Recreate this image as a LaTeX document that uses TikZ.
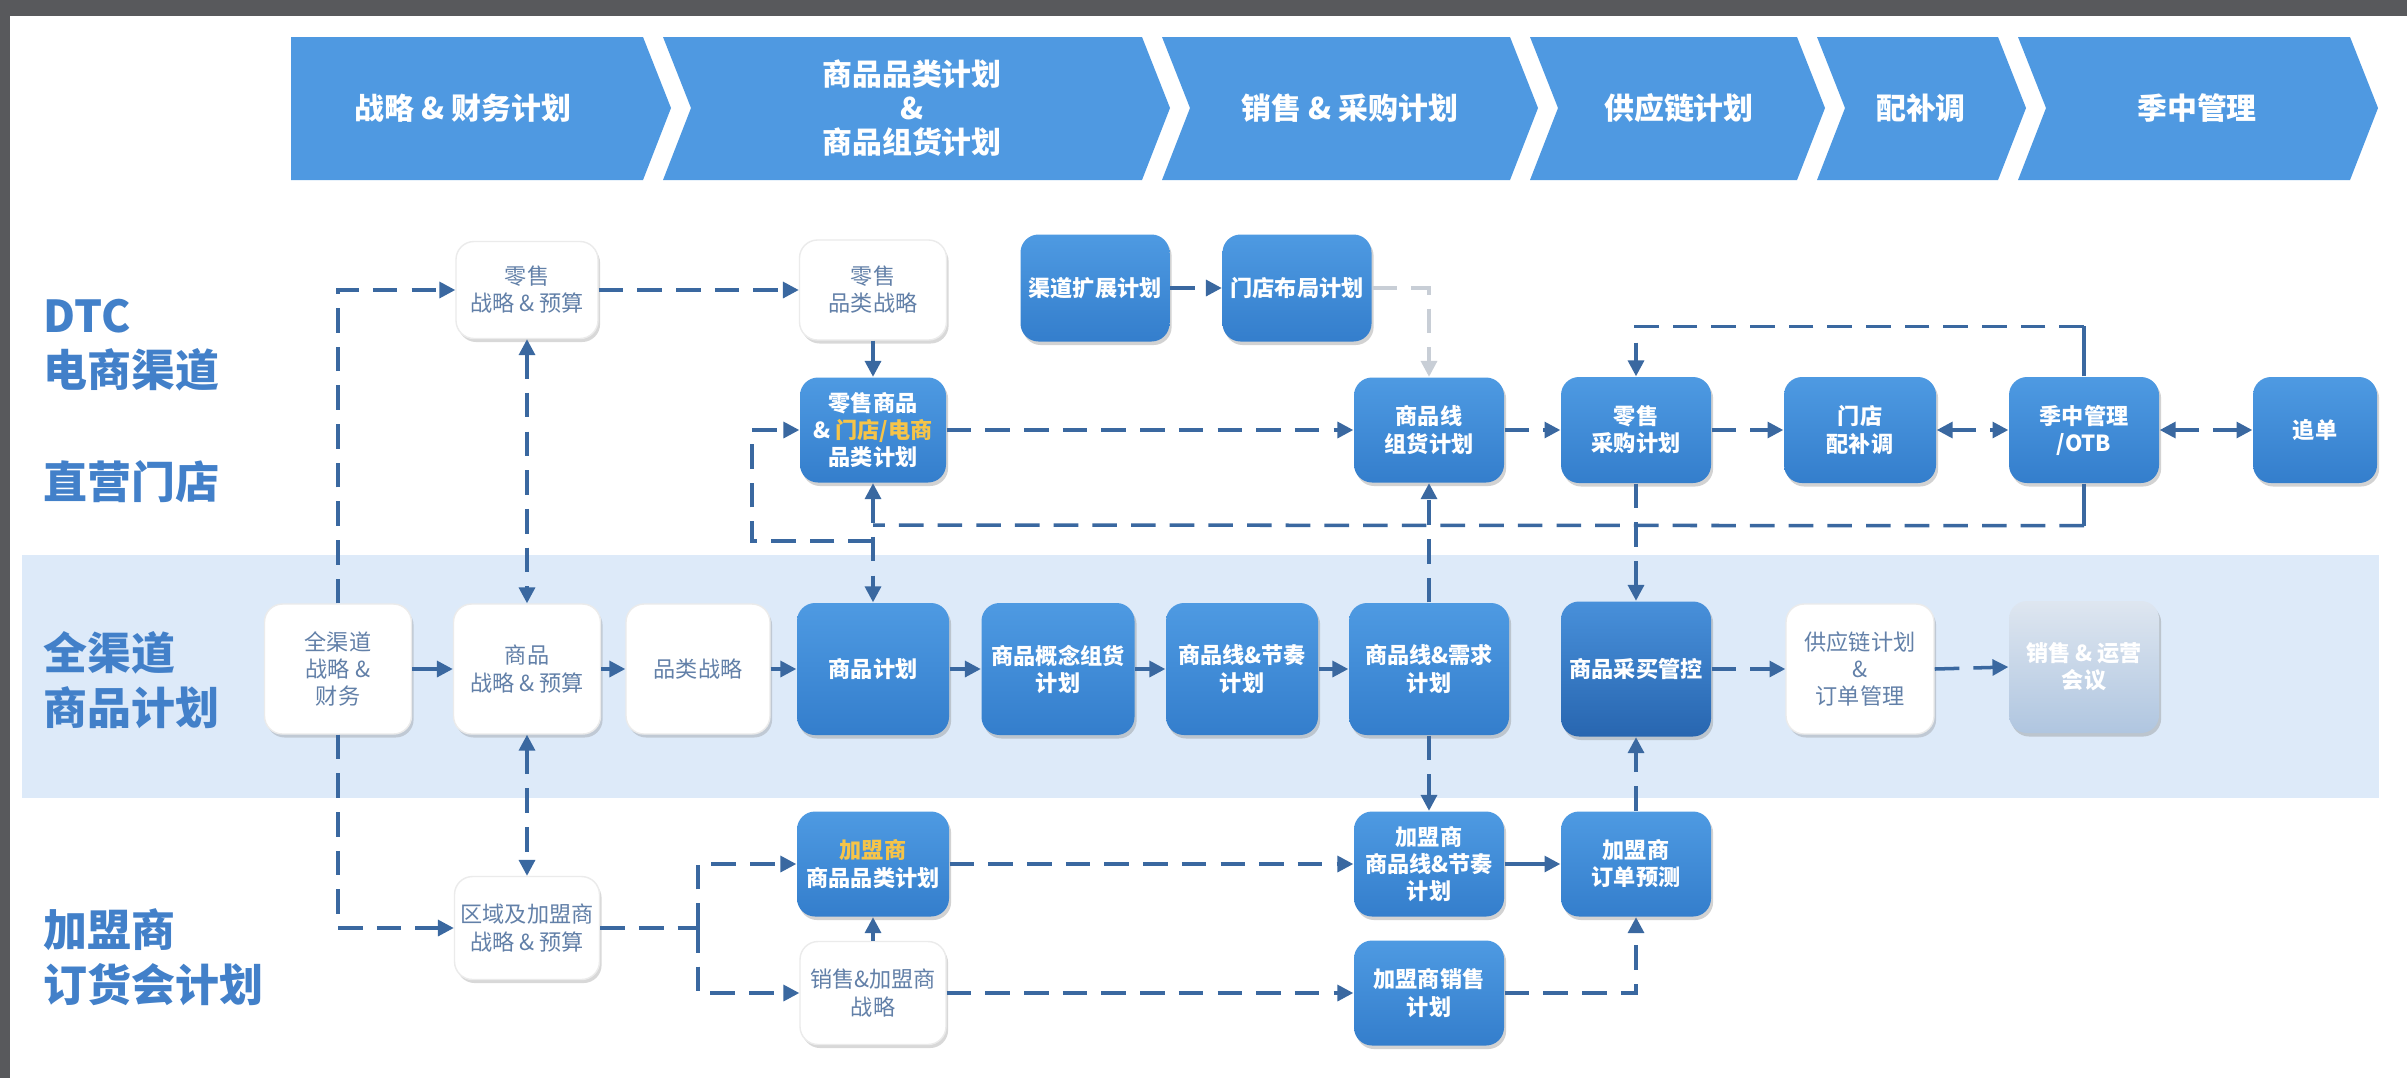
\documentclass[tikz,border=0pt]{standalone}
\usepackage{fontspec}
\setmainfont{Noto Sans CJK SC}
\usetikzlibrary{arrows.meta,shadows}
\definecolor{frame}{RGB}{88,89,92}
\definecolor{band}{RGB}{221,234,249}
\definecolor{hdr}{RGB}{79,153,225}
\definecolor{lbl}{RGB}{66,128,201}
\definecolor{wtxt}{RGB}{98,128,168}
\definecolor{lcol}{RGB}{58,104,160}
\definecolor{lgray}{RGB}{200,206,214}
\definecolor{ylw}{RGB}{246,196,72}
\definecolor{btop}{RGB}{78,154,226}
\definecolor{bbot}{RGB}{52,126,204}
\definecolor{dtop}{RGB}{72,144,218}
\definecolor{dbot}{RGB}{40,102,176}
\definecolor{gtop}{RGB}{222,230,240}
\definecolor{gbot}{RGB}{176,198,224}
\begin{document}
\begin{tikzpicture}[x=0.01cm,y=-0.01cm,
  sz/.style 2 args={minimum width=#1*0.01cm, minimum height=#2*0.01cm},
  base/.style={rounded corners=0.18cm, inner sep=0pt, align=center},
  bnode/.style={base, top color=btop, bottom color=bbot, text=white,
    font=\bfseries\fontsize{6.3}{7.7}\selectfont,
    drop shadow={opacity=0.35, shadow xshift=0.6pt, shadow yshift=-1pt}},
  dnode/.style={bnode, top color=dtop, bottom color=dbot},
  gnode/.style={bnode, top color=gtop, bottom color=gbot},
  wnode/.style={base, fill=white, draw=black!8, text=wtxt,
    font=\fontsize{6.3}{7.7}\selectfont,
    drop shadow={opacity=0.3, shadow xshift=0.6pt, shadow yshift=-1pt}},
  hdrtxt/.style={text=white, font=\bfseries\fontsize{8.5}{9.6}\selectfont, align=center, inner sep=0pt},
  side/.style={text=lbl, font=\bfseries\fontsize{12.5}{15.5}\selectfont, align=left, anchor=west, inner sep=0pt},
  dl/.style={draw=lcol, line width=1pt, dash pattern=on 7pt off 4pt},
  sl/.style={draw=lcol, line width=1pt},
  arr/.style={-{Triangle[length=4.5pt,width=4.5pt]}},
  arr2/.style={{Triangle[length=4.5pt,width=4.5pt]}-{Triangle[length=4.5pt,width=4.5pt]}}
]
\useasboundingbox (0,0) rectangle (2407,1078);
\fill[frame] (0,0) rectangle (2407,1078);
\fill[white] (10,16) rectangle (2407,1078);
% band
\fill[band] (22,555) rectangle (2379,798);

% header chevrons
\fill[hdr] (291,37) -- (643,37) -- (671,108) -- (643,180) -- (291,180) -- cycle;
\fill[hdr] (663,37) -- (1142,37) -- (1170,108) -- (1142,180) -- (663,180) -- (691,108) -- cycle;
\fill[hdr] (1162,37) -- (1510,37) -- (1538,108) -- (1510,180) -- (1162,180) -- (1190,108) -- cycle;
\fill[hdr] (1530,37) -- (1797,37) -- (1825,108) -- (1797,180) -- (1530,180) -- (1558,108) -- cycle;
\fill[hdr] (1817,37) -- (1998,37) -- (2026,108) -- (1998,180) -- (1817,180) -- (1845,108) -- cycle;
\fill[hdr] (2018,37) -- (2350,37) -- (2378,108) -- (2350,180) -- (2018,180) -- (2046,108) -- cycle;
\node[hdrtxt] (h1) at (463,108) {战略 \& 财务计划};
\node[hdrtxt] (h2) at (912,108) {商品品类计划\\\&\\商品组货计划};
\node[hdrtxt] (h3) at (1350,108) {销售 \& 采购计划};
\node[hdrtxt] (h4) at (1679,108) {供应链计划};
\node[hdrtxt] (h5) at (1921,108) {配补调};
\node[hdrtxt] (h6) at (2197,108) {季中管理};

% side labels
\node[side] (l1) at (43,345) {DTC\\电商渠道};
\node[side] (l2) at (43,482) {直营门店};
\node[side] (l3) at (43,680) {全渠道\\商品计划};
\node[side] (l4) at (43,957) {加盟商\\订货会计划};

% row 1
\node[wnode, sz={142}{97}] (rzl) at (527,290) {零售\\战略 \& 预算};
\node[wnode, sz={147}{100}] (rpl) at (873,290) {零售\\品类战略};
\node[bnode, sz={149}{107}] (qdkz) at (1095,288) {渠道扩展计划};
\node[bnode, sz={149}{107}] (mdbj) at (1297,288) {门店布局计划};
\node[bnode, sz={146}{105}] (lssp) at (873,430) {零售商品\\\& {\color{ylw}门店/电商}\\品类计划};
\node[bnode, sz={150}{105}] (spxzh) at (1429,430) {商品线\\组货计划};
\node[bnode, sz={150}{106}] (lscg) at (1636,430) {零售\\采购计划};
\node[bnode, sz={152}{106}] (mdpbt) at (1860,430) {门店\\配补调};
\node[bnode, sz={150}{106}] (jzgl) at (2084,430) {季中管理\\/OTB};
\node[bnode, sz={124}{106}] (zd) at (2315,430) {追单};

% row 2
\node[wnode, sz={147}{130}] (qqd) at (338,669) {全渠道\\战略 \&\\财务};
\node[wnode, sz={147}{130}] (spzl) at (527,669) {商品\\战略 \& 预算};
\node[wnode, sz={144}{130}] (plzl) at (698,669) {品类战略};
\node[bnode, sz={152}{132}] (spjh) at (873,669) {商品计划};
\node[bnode, sz={153}{132}] (spgn) at (1058,669) {商品概念组货\\计划};
\node[bnode, sz={152}{132}] (spjz) at (1242,669) {商品线\&节奏\\计划};
\node[bnode, sz={160}{132}] (spxq) at (1429,669) {商品线\&需求\\计划};
\node[dnode, sz={150}{135}] (cmgk) at (1636,669) {商品采买管控};
\node[wnode, sz={148}{130}] (gyl) at (1860,669) {供应链计划\\\&\\订单管理};
\node[gnode, sz={150}{132}] (xsyy) at (2084,667) {销售 \& 运营\\会议};

% row 3
\node[wnode, sz={145}{103}] (qyjm) at (527,928) {区域及加盟商\\战略 \& 预算};
\node[bnode, sz={152}{105}] (jmpl) at (873,864) {{\color{ylw}加盟商}\\商品品类计划};
\node[wnode, sz={146}{103}] (xsjm) at (873,993) {销售\&加盟商\\战略};
\node[bnode, sz={150}{105}] (jmjz) at (1429,864) {加盟商\\商品线\&节奏\\计划};
\node[bnode, sz={150}{105}] (jmxs) at (1429,993) {加盟商销售\\计划};
\node[bnode, sz={150}{105}] (jmdd) at (1636,864) {加盟商\\订单预测};

% connectors: left trunk
\draw[dl,arr] (qqd.north) |- (rzl.west);
\draw[dl,arr] (qqd.south) |- (qyjm.west);
\draw[dl,arr] (rzl.east) -- (rpl.west);
\draw[dl,arr2] (rzl.south) -- (spzl.north);
\draw[dl,arr2] (spzl.south) -- (qyjm.north);
% row 2 chain
\draw[sl,arr] (qqd.east) -- (spzl.west);
\draw[sl,arr] (spzl.east) -- (plzl.west);
\draw[sl,arr] (plzl.east) -- (spjh.west);
\draw[sl,arr] (spjh.east) -- (spgn.west);
\draw[sl,arr] (spgn.east) -- (spjz.west);
\draw[sl,arr] (spjz.east) -- (spxq.west);
\draw[dl,arr] (cmgk.east) -- (gyl.west);
\draw[dl,arr] (gyl.east) -- (xsyy.west);
% row 1
\draw[sl,arr] (rpl.south) -- (lssp.north);
\draw[dl,arr] (qdkz.east) -- (mdbj.west);
\draw[dl,draw=lgray,arr] (mdbj.east) -| (spxzh.north);
\draw[dl,arr] (lssp.east) -- (spxzh.west);
\draw[dl,arr] (spxzh.east) -- (lscg.west);
\draw[dl,arr] (lscg.east) -- (mdpbt.west);
\draw[dl,arr2] (mdpbt.east) -- (jzgl.west);
\draw[dl,arr2] (jzgl.east) -- (zd.west);
% feedback loops
\draw[sl] (jzgl.north) -- ++(0,-50) coordinate (ta);
\draw[dl,arr] (ta) -| (lscg.north);
\draw[sl] (jzgl.south) -- ++(0,42) coordinate (tb);
\coordinate (tc) at (873,525);
\draw[dl] (tb) -- (tc);
\draw[dl,arr2] (lssp.south) -- (spjh.north);
\coordinate (lc) at (873,541);
\draw[dl,arr] (lc) -- ++(-121,0) |- (lssp.west);
% verticals between rows
\draw[dl,arr] (lscg.south) -- (cmgk.north);
\draw[dl,arr] (spxq.north) -- (spxzh.south);
\draw[dl,arr] (spxq.south) -- (jmjz.north);
\draw[dl,arr] (jmdd.north) -- (cmgk.south);
% row 3
\draw[sl,arr] (jmjz.east) -- (jmdd.west);
\draw[dl,arr] (jmxs.east) -| (jmdd.south);
\draw[dl,arr] (jmpl.east) -- (jmjz.west);
\draw[dl,arr] (xsjm.east) -- (jmxs.west);
\draw[sl,arr] (xsjm.north) -- (jmpl.south);
\coordinate (br) at (698,928);
\draw[dl] (qyjm.east) -- (br);
\draw[dl,arr] (br) |- (jmpl.west);
\draw[dl,arr] (br) |- (xsjm.west);
\end{tikzpicture}
\end{document}
